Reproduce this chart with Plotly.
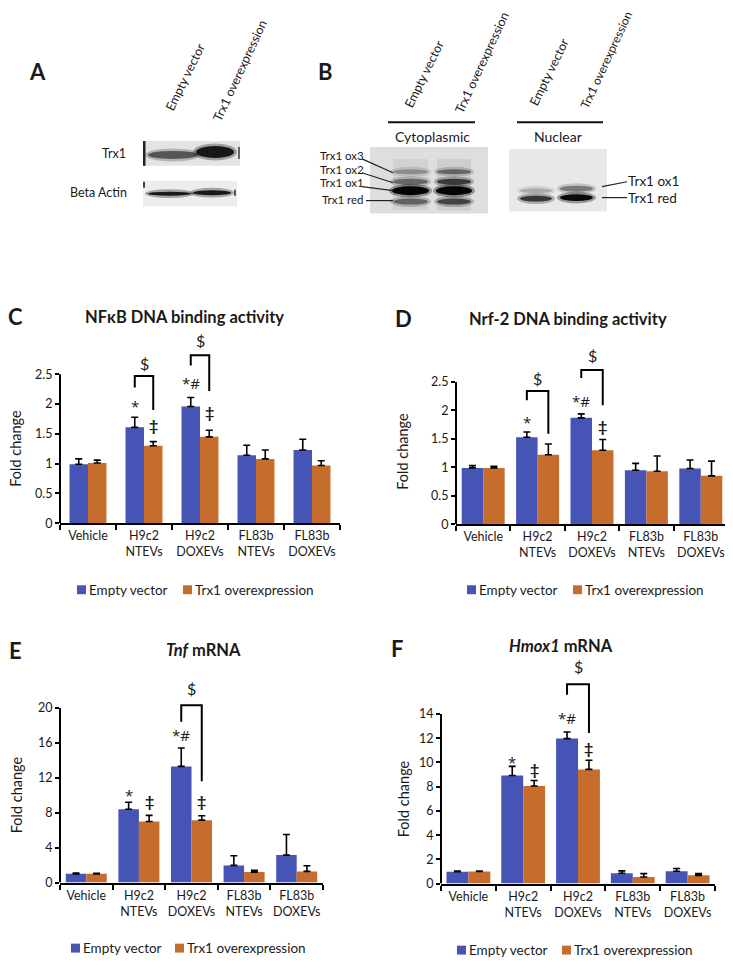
import plotly.graph_objects as go

# The page body has an 8px default margin, so the figure is drawn 8px in from the
# window's top-left corner; coordinates below are given in window pixels.
WIN_W, WIN_H = 733, 971
OX, OY = 8, 8
W, H = WIN_W - OX, WIN_H - OY
FONT = "Lato, 'Open Sans', sans-serif"
MARKFONT = "'Open Sans', 'DejaVu Sans', sans-serif"
TXT = "#1a1a1a"

# ---------------- data ----------------
categories = ["Vehicle", "H9c2<br>NTEVs", "H9c2<br>DOXEVs", "FL83b<br>NTEVs", "FL83b<br>DOXEVs"]
series_names = ["Empty vector", "Trx1 overexpression"]
series_colors = ["#4655B5", "#C66D2E"]

nfkb_ev = [0.99, 1.61, 1.96, 1.14, 1.23]
nfkb_ev_err = [0.09, 0.17, 0.15, 0.17, 0.18]
nfkb_trx = [1.01, 1.30, 1.45, 1.08, 0.97]
nfkb_trx_err = [0.05, 0.07, 0.11, 0.15, 0.08]

nrf2_ev = [0.99, 1.53, 1.87, 0.95, 0.98]
nrf2_ev_err = [0.04, 0.09, 0.07, 0.12, 0.15]
nrf2_trx = [0.99, 1.22, 1.30, 0.93, 0.85]
nrf2_trx_err = [0.03, 0.19, 0.19, 0.27, 0.26]

tnf_ev = [1.0, 8.4, 13.3, 1.97, 3.15]
tnf_ev_err = [0.08, 0.8, 2.1, 1.1, 2.35]
tnf_trx = [1.0, 7.0, 7.15, 1.2, 1.28]
tnf_trx_err = [0.06, 0.7, 0.5, 0.2, 0.65]

hmox_ev = [0.98, 8.93, 11.97, 0.85, 1.02]
hmox_ev_err = [0.05, 0.75, 0.55, 0.2, 0.22]
hmox_trx = [1.0, 8.06, 9.43, 0.55, 0.68]
hmox_trx_err = [0.04, 0.45, 0.75, 0.27, 0.14]

# significance marks: (category index, series 0/1, y value, text)
nfkb_marks = [(1, 0, 1.96, "*"), (1, 1, 1.66, "‡"), (2, 0, 2.36, "*#"), (2, 1, 1.88, "‡")]
nrf2_marks = [(1, 0, 1.80, "*"), (2, 0, 2.16, "*#"), (2, 1, 1.74, "‡")]
tnf_marks = [(1, 0, 10.0, "*"), (1, 1, 9.4, "‡"), (2, 0, 16.9, "*#"), (2, 1, 9.4, "‡")]
hmox_marks = [(1, 0, 10.0, "*"), (1, 1, 9.5, "‡"), (2, 0, 13.7, "*#"), (2, 1, 11.2, "‡")]

# brackets: (category index, left leg bottom, top, right leg bottom, "$" y)
nfkb_brackets = [(1, 2.28, 2.47, 1.90, 2.68), (2, 2.65, 2.82, 2.22, 3.06)]
nrf2_brackets = [(1, 2.18, 2.34, 1.59, 2.57), (2, 2.57, 2.71, 2.09, 2.96)]
tnf_brackets = [(2, 18.4, 20.3, 11.6, 22.2)]
hmox_brackets = [(2, 15.6, 16.45, 12.43, 17.9)]

nfkb_ticks = [0, 0.5, 1, 1.5, 2, 2.5]
nrf2_ticks = [0, 0.5, 1, 1.5, 2, 2.5]
tnf_ticks = [0, 4, 8, 12, 16, 20]
hmox_ticks = [0, 2, 4, 6, 8, 10, 12, 14]


def PX(x):
    return (x - OX) / W


def PY(y):
    return 1 - (y - OY) / H


fig = go.Figure()
shapes = []
annotations = []


def ann(x, y, text, size=12, xanchor="center", yanchor="middle", angle=0, family=FONT, **kw):
    annotations.append(dict(x=PX(x), y=PY(y), xref="paper", yref="paper", text=text, showarrow=False,
                            xanchor=xanchor, yanchor=yanchor, textangle=angle, borderpad=0,
                            font=dict(family=family, size=size, color=TXT), **kw))


def pline(x0, y0, x1, y1, w=1.2, color="#222"):
    shapes.append(dict(type="line", xref="paper", yref="paper", x0=PX(x0), y0=PY(y0), x1=PX(x1), y1=PY(y1),
                       line=dict(color=color, width=w)))


def prect(x0, y0, x1, y1, color, layer="below"):
    shapes.append(dict(type="rect", xref="paper", yref="paper", x0=PX(x0), y0=PY(y0), x1=PX(x1), y1=PY(y1),
                       fillcolor=color, line=dict(width=0), layer=layer))


def band(x0, x1, yc, h, color, op=1.0):
    # soft halo + core, mimics a blurred blot band
    shapes.append(dict(type="circle", xref="paper", yref="paper", x0=PX(x0 - 3), x1=PX(x1 + 3),
                       y0=PY(yc + h / 2 + 2.5), y1=PY(yc - h / 2 - 2.5), fillcolor=color,
                       opacity=op * 0.35, line=dict(width=0), layer="below"))
    shapes.append(dict(type="circle", xref="paper", yref="paper", x0=PX(x0), x1=PX(x1),
                       y0=PY(yc + h / 2), y1=PY(yc - h / 2), fillcolor=color,
                       opacity=op, line=dict(width=0), layer="below"))


# ---------------- panel A (blots) ----------------
ann(37, 72, "<b>A</b>", size=22)
ann(185, 78, "Empty vector", size=12.5, angle=-64)
ann(240, 71, "Trx1 overexpression", size=12.5, angle=-65)
ann(127, 155, "Trx1", size=12.5, xanchor="right")
ann(128, 194, "Beta Actin", size=12.5, xanchor="right")
prect(143, 142, 240, 167, "#e4e4e4")
prect(143, 142, 145.5, 167, "#222")
band(148, 198, 156, 8, "#444", 0.85)
band(196, 234, 153, 12, "#111", 0.95)
prect(238, 148, 240, 160, "#666")
prect(143, 182, 237, 208, "#ededed")
prect(143, 183, 145, 189, "#444")
band(148, 191, 195, 4, "#111", 0.95)
band(193, 231, 194, 5, "#111", 0.95)
prect(234, 191, 236, 197, "#555")

# ---------------- panel B (blots) ----------------
ann(325, 72, "<b>B</b>", size=22)
ann(424, 75, "Empty vector", size=12.5, angle=-64)
ann(482, 63, "Trx1 overexpression", size=12.5, angle=-65)
ann(549, 73, "Empty vector", size=12.5, angle=-64)
ann(606, 61, "Trx1 overexpression", size=12, angle=-65)
pline(388, 123, 475, 123, w=2, color="#111")
pline(517, 123, 603, 123, w=2, color="#111")
ann(432, 137, "Cytoplasmic", size=14)
ann(558, 137, "Nuclear", size=14)
prect(370, 148, 488, 215, "#dedede")
prect(393, 160, 428, 212, "#d2d2d2")
prect(437, 160, 471, 212, "#cecece")
for (x0, x1, dk) in [(393, 428, 0), (437, 471, 1)]:
    band(x0, x1, 173, 5, "#777" if dk == 0 else "#444", 0.7)
    band(x0, x1, 183, 6, "#555" if dk == 0 else "#222", 0.8)
    band(x0 - 1, x1 + 1, 192, 9, "#050505", 1.0)
    band(x0, x1, 203, 6, "#555" if dk == 0 else "#333", 0.85)
prect(509, 150, 607, 213, "#e8e8e8")
band(520, 552, 192, 5, "#999", 0.7)
band(520, 552, 200, 6, "#2a2a2a", 0.9)
band(560, 593, 190, 6, "#666", 0.8)
band(560, 593, 199, 7, "#0a0a0a", 1.0)
for (lbl, y) in [("Trx1 ox3", 157), ("Trx1 ox2", 170.5), ("Trx1 ox1", 184), ("Trx1 red", 201)]:
    ann(365, y, lbl, size=11.5, xanchor="right")
pline(362, 160, 393, 174)
pline(362, 174, 393, 184)
pline(362, 188, 393, 192)
pline(366, 202, 393, 202)
ann(627, 182, "Trx1 ox1", size=13.5, xanchor="left")
ann(627, 199, "Trx1 red", size=13.5, xanchor="left")
pline(602, 188, 627, 183)
pline(602, 199, 627, 199)

# ---------------- bar chart panels ----------------
panels = [
    dict(n="", letter="C", lpos=(16, 319), title="<b>NFκB DNA binding activity</b>", tpos=(184, 319),
         xpix=(60, 340), zero=527, ppu=60.0, top=335, ticks=nfkb_ticks, bw=0.33,
         ev=nfkb_ev, eve=nfkb_ev_err, trx=nfkb_trx, trxe=nfkb_trx_err,
         marks=nfkb_marks, brackets=nfkb_brackets, ylab=(16, 452), leg=(77, 183, 594)),
    dict(n="2", letter="D", lpos=(403, 321), title="<b>Nrf-2 DNA binding activity</b>", tpos=(568, 321),
         xpix=(456, 728), zero=528, ppu=57.3, top=345, ticks=nrf2_ticks, bw=0.395,
         ev=nrf2_ev, eve=nrf2_ev_err, trx=nrf2_trx, trxe=nrf2_trx_err,
         marks=nrf2_marks, brackets=nrf2_brackets, ylab=(403, 455), leg=(467, 573, 594)),
    dict(n="3", letter="E", lpos=(15, 655), title="<b><i>Tnf</i> mRNA</b>", tpos=(204, 655),
         xpix=(60, 323), zero=889, ppu=8.8, top=680, ticks=tnf_ticks, bw=0.39,
         ev=tnf_ev, eve=tnf_ev_err, trx=tnf_trx, trxe=tnf_trx_err,
         marks=tnf_marks, brackets=tnf_brackets, ylab=(16, 801), leg=(71, 175, 955)),
    dict(n="4", letter="F", lpos=(397, 653), title="<b><i>Hmox1</i> mRNA</b>", tpos=(561, 651),
         xpix=(441, 715), zero=890, ppu=12.2, top=655, ticks=hmox_ticks, bw=0.40,
         ev=hmox_ev, eve=hmox_ev_err, trx=hmox_trx, trxe=hmox_trx_err,
         marks=hmox_marks, brackets=hmox_brackets, ylab=(403, 805), leg=(457, 562, 957)),
]

layout_axes = {}
for p in panels:
    xa, ya = "x" + p["n"], "y" + p["n"]
    bw = p["bw"]
    ytop = (p["zero"] - p["top"]) / p["ppu"]
    for k, (vals, errs) in enumerate([(p["ev"], p["eve"]), (p["trx"], p["trxe"])]):
        fig.add_trace(go.Bar(
            x=categories, y=vals, name=series_names[k], xaxis=xa, yaxis=ya,
            marker=dict(color=series_colors[k], line=dict(width=0)),
            width=bw, offset=-bw if k == 0 else 0, showlegend=False,
            error_y=dict(type="data", symmetric=False, array=errs, arrayminus=[0] * len(errs),
                         color="black", thickness=1.6, width=3.5),
        ))
    layout_axes["xaxis" + p["n"]] = dict(
        domain=[PX(p["xpix"][0]), PX(p["xpix"][1])], anchor=ya, type="category",
        categoryorder="array", categoryarray=categories, range=[-0.5, 4.5],
        tickson="boundaries", ticks="outside", ticklen=5, tickwidth=1.5, tickcolor="black",
        tickangle=0, showline=True, linewidth=2, linecolor="black", showgrid=False, zeroline=False,
        tickfont=dict(family=FONT, size=12.5, color=TXT), fixedrange=True)
    layout_axes["yaxis" + p["n"]] = dict(
        domain=[PY(p["zero"]), PY(p["top"])], anchor=xa, range=[0, ytop],
        tickvals=p["ticks"], ticks="outside", ticklen=4, tickwidth=1.5, tickcolor="black",
        showline=False, showgrid=False, zeroline=False,
        tickfont=dict(family=FONT, size=12.5, color=TXT), fixedrange=True)
    # y axis line only up to the last tick
    shapes.append(dict(type="line", xref=xa + " domain", yref=ya, x0=0, x1=0, y0=0, y1=p["ticks"][-1],
                       line=dict(color="black", width=2)))
    # significance marks
    for (ci, s, yv, t) in p["marks"]:
        xv = ci - bw / 2 if s == 0 else ci + bw / 2
        if t == "‡":
            txt, fam, sz = "<b>‡</b>", FONT, 16
        else:
            txt, fam, sz = t, MARKFONT, 15
        annotations.append(dict(x=xv, y=yv, xref=xa, yref=ya, text=txt, showarrow=False,
                                xanchor="center", yanchor="middle", borderpad=0,
                                font=dict(family=fam, size=sz, color=TXT)))
    for (ci, yl, yt, yr, yd) in p["brackets"]:
        xl, xr = ci - bw / 2, ci + bw / 2
        shapes.append(dict(type="path", xref=xa, yref=ya,
                           path=f"M {xl},{yl} L {xl},{yt} L {xr},{yt} L {xr},{yr}",
                           line=dict(color="black", width=2)))
        annotations.append(dict(x=ci, y=yd, xref=xa, yref=ya, text="$", showarrow=False,
                                xanchor="center", yanchor="middle", borderpad=0,
                                font=dict(family=FONT, size=16, color=TXT)))
    ann(p["lpos"][0], p["lpos"][1], "<b>%s</b>" % p["letter"], size=22)
    ann(p["tpos"][0], p["tpos"][1], p["title"], size=16.5)
    ann(p["ylab"][0], p["ylab"][1], "Fold change", size=14.5, angle=-90)
    # legend
    lx1, lx2, ly = p["leg"]
    for k, lx in enumerate([lx1, lx2]):
        prect(lx, ly - 4.5, lx + 9, ly + 4.5, series_colors[k])
        ann(lx + 11, ly, series_names[k], size=13.5, xanchor="left")

fig.update_layout(
    width=W, height=H, margin=dict(l=0, r=0, t=0, b=0),
    paper_bgcolor="white", plot_bgcolor="white", barmode="overlay",
    font=dict(family=FONT, color=TXT), showlegend=False,
    shapes=shapes, annotations=annotations, **layout_axes,
)

fig.write_html("out.html")
